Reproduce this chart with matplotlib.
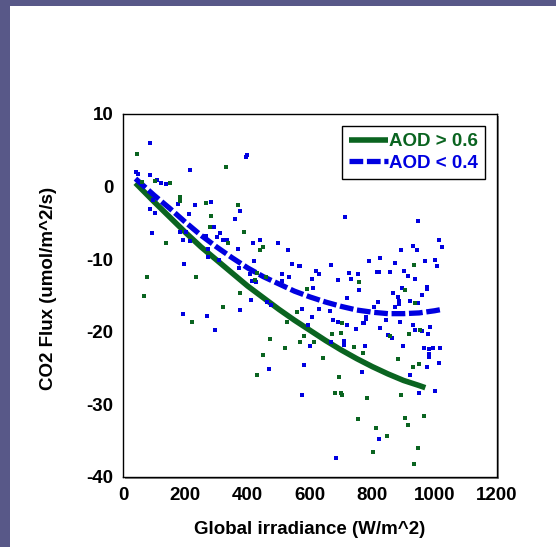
import matplotlib
matplotlib.use('Agg')
import matplotlib.pyplot as plt
from matplotlib.patches import Rectangle

plt.rcParams['font.family'] = ['Liberation Sans', 'DejaVu Sans']
plt.rcParams['font.weight'] = 'bold'
plt.rcParams['axes.unicode_minus'] = False

GREEN = '#0a6420'
BLUE = '#0000e0'

# scatter points
blue_x = [88, 41, 48, 88, 110, 121, 137, 214, 395, 399, 97, 88, 104, 176, 230, 283, 211, 376,
          360, 291, 93, 182, 203, 310, 713, 945, 1013, 1022, 929, 942, 893, 824, 789, 873, 969,
          1002, 1008, 666, 619, 630, 726, 753, 732, 814, 822, 856, 902, 916, 936, 690, 606, 609,
          756, 867, 883, 975, 975, 959, 720, 568, 896,
          417, 440, 497, 530, 420, 543, 564, 510, 533, 511, 410, 463, 476, 575, 630, 664, 607,
          673, 690, 719, 594, 772, 780, 748, 667, 708, 708, 775, 600, 406,
          193, 215, 265, 302, 321, 333, 368, 274, 274, 307, 197, 371, 376, 193, 271, 294,
          470, 573, 580, 427, 415,
          819, 873, 886, 886, 920, 947, 843, 890, 929, 986, 823, 936, 960, 979, 850, 862, 899,
          966, 983, 996, 1016, 983, 983, 1013, 976, 920, 1000, 950, 822,
          805, 771, 779, 779, 766, 683]
blue_y = [6.05, 2.05, 1.7, 1.6, 0.95, 0.5, 0.35, 2.3, 4.1, 4.4, -1.85, -3.1, -3.6, -2.4, -2.5,
          -2.1, -3.8, -3.4, -4.5, -5.6, -6.4, -6.2, -6.2, -6.4, -4.2, -4.8, -7.3, -8.3, -8.2,
          -8.8, -8.8, -9.9, -10.3, -10.5, -10.3, -10.1, -11.0, -10.8, -11.6, -12.1, -11.9,
          -12.1, -12.7, -11.8, -11.7, -11.7, -11.6, -12.3, -12.7, -12.8, -12.7, -13.9, -14.3,
          -14.7, -15.2, -13.8, -14.1, -15.0, -15.3, -10.9, -13.9,
          -7.8, -7.4, -7.7, -8.8, -10.3, -10.6, -11.0, -12.0, -12.5, -13.0, -15.6, -15.9,
          -16.3, -16.9, -16.9, -17.2, -18.0, -18.4, -18.7, -19.0, -19.1, -18.8, -18.2, -19.6,
          -21.4, -21.8, -21.2, -22.0, -22.0, -12.0,
          -7.3, -7.5, -6.8, -6.9, -7.4, -7.4, -8.6, -8.6, -9.7, -10.1, -10.6, -11.2, -17.0,
          -17.5, -17.8, -19.8,
          -25.1, -28.7, -24.6, -13.2, -13.0,
          -15.9, -16.6, -16.2, -15.7, -15.8, -16.1, -18.4, -18.6, -19.1, -19.3, -19.5, -19.8,
          -19.9, -20.3, -20.4, -20.8, -21.9, -22.2, -22.4, -22.3, -22.3, -23.0, -23.5, -24.3,
          -24.9, -25.9, -28.1, -28.4, -34.8,
          -16.6, -18.8, -18.3, -18.0, -25.6, -37.4]

green_x = [45, 152, 102, 62, 184, 184, 331, 267, 370, 283, 280, 387, 933, 758, 589, 906,
           440, 450, 460, 422, 429, 559, 527, 703, 669, 700, 580, 567, 613, 473, 520, 741, 770,
           137, 338, 233, 77, 67, 376, 320, 220, 450, 430,
           937, 953, 918, 856, 882, 949, 929, 893, 906, 966, 913, 813, 846, 802, 946, 933,
           641, 693, 680, 699, 703, 784, 753]
green_y = [4.5, 0.5, 0.8, 0.6, -1.4, -2.0, 2.7, -2.3, -2.5, -4.1, -5.5, -6.3, -10.8, -13.2,
           -14.1, -14.3,
           -8.8, -8.3, -12.4, -12.8, -11.9, -17.3, -18.7, -18.8, -20.3, -20.2, -20.6, -21.4,
           -21.4, -21.0, -22.3, -22.1, -22.9,
           -7.7, -7.7, -12.4, -12.5, -15.1, -14.7, -16.6, -18.7, -23.2, -25.9,
           -16.0, -19.8, -20.3, -20.6, -23.8, -24.4, -24.9, -28.7, -31.9, -31.6, -32.9, -33.3,
           -34.3, -36.5, -36.0, -38.2,
           -23.6, -26.2, -28.4, -28.4, -28.7, -29.1, -32.0]

# fitted curves
fit_green_x = [40, 100, 150, 200, 250, 300, 350, 400, 450, 500, 550, 600, 650, 700, 750,
               800, 850, 900, 950, 970]
fit_green_y = [0.5, -2.1, -4.2, -6.3, -8.3, -10.1, -11.9, -13.7, -15.3, -16.9, -18.4, -19.8,
               -21.2, -22.5, -23.7, -24.8, -25.8, -26.7, -27.4, -27.7]
fit_blue_x = [40, 100, 150, 200, 250, 300, 350, 400, 450, 500, 550, 600, 650, 700, 750, 800,
              850, 900, 950, 1000, 1025]
fit_blue_y = [1.1, -1.2, -3.0, -4.9, -6.7, -8.3, -9.8, -11.2, -12.4, -13.4, -14.4, -15.2,
              -15.9, -16.5, -17.0, -17.3, -17.5, -17.5, -17.4, -17.1, -16.9]

FS = 13.5

fig = plt.figure(figsize=(5.56, 5.47), dpi=100)
fig.patch.set_facecolor('white')

# slide border (purple strips top and left)
fig.add_artist(Rectangle((0, 1 - 6 / 547), 1, 6 / 547, transform=fig.transFigure,
                         facecolor='#585888', edgecolor='none', zorder=-5))
fig.add_artist(Rectangle((0, 0), 10 / 556, 1, transform=fig.transFigure,
                         facecolor='#585888', edgecolor='none', zorder=-5))

ax_rect = [123 / 556, (547 - 477) / 547, 374 / 556, 363 / 547]
# gray drop shadow of the plot box
fig.add_artist(Rectangle((ax_rect[0] + 2 / 556, ax_rect[1] - 2 / 547), ax_rect[2], ax_rect[3],
                         transform=fig.transFigure, facecolor='#888888', edgecolor='none',
                         zorder=-1))
ax = fig.add_axes(ax_rect)

ax.plot(fit_green_x, fit_green_y, color=GREEN, lw=4, solid_capstyle='butt',
        label='AOD > 0.6', zorder=2)
ax.plot(fit_blue_x, fit_blue_y, color=BLUE, lw=3.8, dashes=(2.6, 0.7),
        label='AOD < 0.4', zorder=3)
ax.scatter(blue_x, blue_y, s=7, marker='s', color=BLUE, linewidths=0, zorder=4)
ax.scatter(green_x, green_y, s=7, marker='s', color=GREEN, linewidths=0, zorder=4)

ax.set_xlim(0, 1200)
ax.set_ylim(-40, 10)
ax.set_xticks(range(0, 1201, 200))
ax.set_yticks(range(-40, 11, 10))
ax.tick_params(length=0, pad=7, labelsize=FS)
for lbl in ax.get_xticklabels() + ax.get_yticklabels():
    lbl.set_fontweight('bold')
for s in ax.spines.values():
    s.set_color('black')
    s.set_linewidth(1)

ax.set_xlabel('Global irradiance (W/m^2)', fontsize=FS, fontweight='bold', va='center')
ax.xaxis.set_label_coords(0.5, -0.146)
ax.set_ylabel('CO2 Flux (umol/m^2/s)', fontsize=FS, fontweight='bold', va='center')
ax.yaxis.set_label_coords(-0.2, 0.52)

leg = ax.legend(loc='upper right', fancybox=False, edgecolor='black', framealpha=1,
                handlelength=2.1, handletextpad=0.05, labelspacing=0.22, borderpad=0.38,
                borderaxespad=0.64, labelcolor='linecolor',
                prop={'weight': 'bold', 'size': FS})
leg.get_frame().set_linewidth(1)

plt.savefig('out.png', dpi=100)
